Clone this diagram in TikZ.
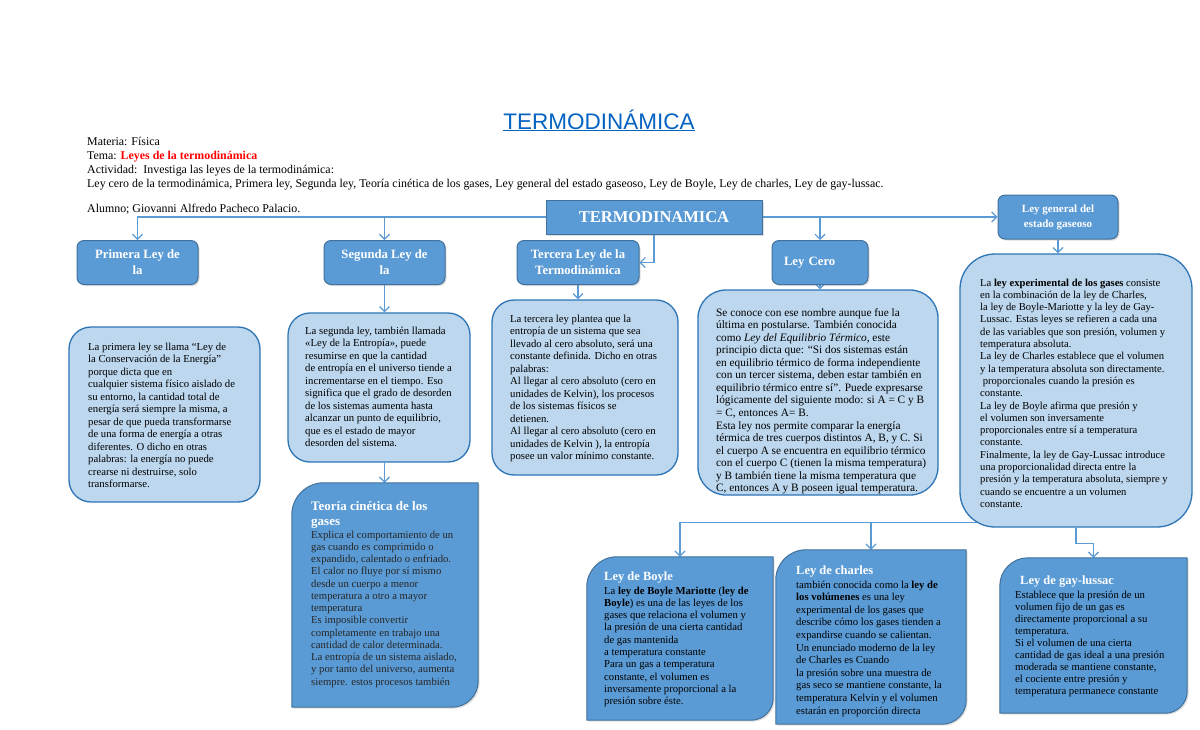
\documentclass[tikz,border=0pt]{standalone}
\usepackage{fontspec}
\setmainfont{Liberation Serif}
\setsansfont{Liberation Sans}
\usetikzlibrary{arrows.meta,shadows,calc,backgrounds}
\definecolor{titleblue}{HTML}{0563C1}
\definecolor{dkfill}{HTML}{5B9BD5}
\definecolor{dkline}{HTML}{41719C}
\definecolor{ltfill}{HTML}{BDD7EE}
\definecolor{ltline}{HTML}{2E75B6}
\definecolor{conncol}{HTML}{5B9BD5}
\definecolor{hdrred}{HTML}{FF0000}
\newcommand{\tl}[1]{\vtop{\halign{##\hfil\cr#1\crcr}}}
\newcommand{\dshape}[3]{%
  \path[dkshape] ($(#1.north west)+(0,#2)$) .. controls ($(#1.north west)+(0,0.45*#2)$) and ($(#1.north west)+(0.45*#2,0)$) .. ($(#1.north west)+(#2,0)$) -- (#1.north east) -- ($(#1.south east)+(0,-#3)$) .. controls ($(#1.south east)+(0,-0.45*#3)$) and ($(#1.south east)+(-0.45*#3,0)$) .. ($(#1.south east)+(-#3,0)$) -- (#1.south west) -- cycle;}
\begin{document}
\begin{tikzpicture}[x=1pt,y=-1pt,
  dkbox/.style={draw=dkline, fill=dkfill, line width=1pt, text=white, rounded corners=7pt, align=center,
     font=\bfseries\fontsize{12.7}{16}\selectfont,
     drop shadow={opacity=0.25, shadow xshift=1.5pt, shadow yshift=-1.5pt}},
  dkshape/.style={draw=dkline, fill=dkfill, line width=1pt,
     drop shadow={opacity=0.25, shadow xshift=1.5pt, shadow yshift=-1.5pt}},
  ltbox/.style={draw=ltline, fill=ltfill, line width=1.3pt, inner sep=0pt},
  area/.style={inner sep=0pt, draw=none},
  txt/.style={inner sep=0pt, anchor=base west, font=\fontsize{10.7}{12.5}\selectfont},
  ttl/.style={inner sep=0pt, anchor=base west, text=white, font=\bfseries\fontsize{12.5}{15}\selectfont},
  conn/.style={draw=conncol, line width=1.3pt},
  arr/.style={conn, -{Straight Barb[length=5pt,width=10pt,line width=1.2pt]}}
]
\useasboundingbox (0,0) rectangle (1200,729);

% title and header
\node[anchor=base, inner sep=0pt, text=titleblue, font=\sffamily\fontsize{22.5}{26}\selectfont] (title) at (599,129) {\underline{TERMODINÁMICA}};
\node[txt, font=\fontsize{11.9}{14.3}\selectfont] (hdr) at (87,145) {\tl{Materia: Física\cr
Tema: \textcolor{hdrred}{\textbf{Leyes de la termodinámica}}\cr
Actividad:\ \ Investiga las leyes de la termodinámica:\cr
Ley cero de la termodinámica, Primera ley, Segunda ley, Teoría cinética de los gases, Ley general del estado gaseoso, Ley de Boyle, Ley de charles, Ley de gay-lussac.\cr}};
\node[txt, font=\fontsize{11.9}{14.3}\selectfont] (alum) at (87,212) {Alumno; Giovanni Alfredo Pacheco Palacio.};

% dark header boxes
\node[dkbox, rounded corners=0pt, minimum width=216, minimum height=34, font=\bfseries\fontsize{16.5}{20}\selectfont] (main) at (654,217) {TERMODINAMICA};
\node[dkbox, minimum width=121, minimum height=44] (prim) at (137.5,262.5) {Primera Ley de\\la};
\node[dkbox, minimum width=121, minimum height=44] (segB) at (384.5,262.5) {Segunda Ley de\\la};
\node[dkbox, minimum width=122, minimum height=44] (terc) at (578,262.5) {Tercera Ley de la\\Termodinámica};
\node[dkbox, minimum height=44, text width=72, align=left, inner xsep=12pt] (cero) at (820,262.5) {Ley Cero};
\node[dkbox, minimum width=120, minimum height=44, font=\bfseries\fontsize{11}{15}\selectfont] (lgB) at (1058,217) {Ley general del\\estado gaseoso};

% light text boxes
\node[ltbox, rounded corners=22pt, minimum width=191, minimum height=175] (primBox) at (164.5,414.5) {};
\node[ltbox, rounded corners=22pt, minimum width=182, minimum height=149] (segBox) at (379,387.5) {};
\node[ltbox, rounded corners=22pt, minimum width=186, minimum height=175] (tercBox) at (585,387.5) {};
\node[ltbox, rounded corners=28pt, minimum width=240, minimum height=205] (ceroBox) at (818,392.5) {};
\node[ltbox, rounded corners=35pt, minimum width=232, minimum height=273] (lgBox) at (1076,390.5) {};

% diagonal-rounded dark boxes
\node[area, minimum width=186, minimum height=224] (teo) at (385,595) {};
\node[area, minimum width=186, minimum height=163] (boyle) at (680,638.5) {};
\node[area, minimum width=190, minimum height=174] (charles) at (871,637) {};
\node[area, minimum width=187, minimum height=155] (gay) at (1093.5,635.5) {};
\dshape{teo}{32}{26}
\dshape{boyle}{30}{22}
\dshape{charles}{30}{24}
\dshape{gay}{28}{22}

% texts
\node[txt] (primTx) at (88,350) {\tl{La primera ley se llama “Ley de\cr
la Conservación de la Energía”\cr
porque dicta que en\cr
cualquier sistema físico aislado de\cr
su entorno, la cantidad total de\cr
energía será siempre la misma, a\cr
pesar de que pueda transformarse\cr
de una forma de energía a otras\cr
diferentes. O dicho en otras\cr
palabras: la energía no puede\cr
crearse ni destruirse, solo\cr
transformarse.\cr}};

\node[txt] (segTx) at (305,334) {\tl{La segunda ley, también llamada\cr
«Ley de la Entropía», puede\cr
resumirse en que la cantidad\cr
de entropía en el universo tiende a\cr
incrementarse en el tiempo. Eso\cr
significa que el grado de desorden\cr
de los sistemas aumenta hasta\cr
alcanzar un punto de equilibrio,\cr
que es el estado de mayor\cr
desorden del sistema.\cr}};

\node[txt] (tercTx) at (510,322) {\tl{La tercera ley plantea que la\cr
entropía de un sistema que sea\cr
llevado al cero absoluto, será una\cr
constante definida. Dicho en otras\cr
palabras:\cr
Al llegar al cero absoluto (cero en\cr
unidades de Kelvin), los procesos\cr
de los sistemas físicos se\cr
detienen.\cr
Al llegar al cero absoluto (cero en\cr
unidades de Kelvin ), la entropía\cr
posee un valor mínimo constante.\cr}};

\node[txt, font=\fontsize{11.3}{12.57}\selectfont] (ceroTx) at (716,316) {\tl{Se conoce con ese nombre aunque fue la\cr
última en postularse. También conocida\cr
como \textit{Ley del Equilibrio Térmico}, este\cr
principio dicta que: “Si dos sistemas están\cr
en equilibrio térmico de forma independiente\cr
con un tercer sistema, deben estar también en\cr
equilibrio térmico entre sí”. Puede expresarse\cr
lógicamente del siguiente modo: si A = C y B\cr
= C, entonces A= B.\cr
Esta ley nos permite comparar la energía\cr
térmica de tres cuerpos distintos A, B, y C. Si\cr
el cuerpo A se encuentra en equilibrio térmico\cr
con el cuerpo C (tienen la misma temperatura)\cr
y B también tiene la misma temperatura que\cr
C, entonces A y B poseen igual temperatura.\cr}};

\node[txt, font=\fontsize{10.6}{12.3}\selectfont] (lgTx) at (980,286) {\tl{La \textbf{ley experimental de los gases} consiste\cr
en la combinación de la ley de Charles,\cr
la ley de Boyle-Mariotte y la ley de Gay-\cr
Lussac. Estas leyes se refieren a cada una\cr
de las variables que son presión, volumen y\cr
temperatura absoluta.\cr
La ley de Charles establece que el volumen\cr
y la temperatura absoluta son directamente.\cr
\ proporcionales cuando la presión es\cr
constante.\cr
La ley de Boyle afirma que presión y\cr
el volumen son inversamente\cr
proporcionales entre sí a temperatura\cr
constante.\cr
Finalmente, la ley de Gay-Lussac introduce\cr
una proporcionalidad directa entre la\cr
presión y la temperatura absoluta, siempre y\cr
cuando se encuentre a un volumen\cr
constante.\cr}};

\node[ttl, font=\bfseries\fontsize{13}{15}\selectfont] (teoT) at (311,510) {\tl{Teoría cinética de los\cr gases\cr}};
\node[txt, text=black!85, font=\fontsize{10.7}{12.25}\selectfont] (teoTx) at (311,538) {\tl{Explica el comportamiento de un\cr
gas cuando es comprimido o\cr
expandido, calentado o enfriado.\cr
El calor no fluye por sí mismo\cr
desde un cuerpo a menor\cr
temperatura a otro a mayor\cr
temperatura\cr
Es imposible convertir\cr
completamente en trabajo una\cr
cantidad de calor determinada.\cr
La entropía de un sistema aislado,\cr
y por tanto del universo, aumenta\cr
siempre. estos procesos también\cr}};

\node[ttl] (boyleT) at (604,580) {Ley de Boyle};
\node[txt, font=\fontsize{10.7}{12.3}\selectfont] (boyleTx) at (604,594) {\tl{La \textbf{ley de Boyle Mariotte} (\textbf{ley de}\cr
\textbf{Boyle}) es una de las leyes de los\cr
gases que relaciona el volumen y\cr
la presión de una cierta cantidad\cr
de gas mantenida\cr
a temperatura constante\cr
Para un gas a temperatura\cr
constante, el volumen es\cr
inversamente proporcional a la\cr
presión sobre éste.\cr}};

\node[ttl] (charT) at (796,574) {Ley de charles};
\begin{scope}
\clip (charles.north west) rectangle ($(charles.south east)+(0,-8)$);
\node[txt, font=\fontsize{10.7}{12.6}\selectfont] (charTx) at (796,588) {\tl{también conocida como la \textbf{ley de}\cr
\textbf{los volúmenes} es una ley\cr
experimental de los gases que\cr
describe cómo los gases tienden a\cr
expandirse cuando se calientan.\cr
Un enunciado moderno de la ley\cr
de Charles es Cuando\cr
la presión sobre una muestra de\cr
gas seco se mantiene constante, la\cr
temperatura Kelvin y el volumen\cr
estarán en proporción directa\cr}};
\end{scope}

\node[ttl] (gayT) at (1020,584) {Ley de gay-lussac};
\node[txt, font=\fontsize{10.7}{12.1}\selectfont] (gayTx) at (1015,598) {\tl{Establece que la presión de un\cr
volumen fijo de un gas es\cr
directamente proporcional a su\cr
temperatura.\cr
Si el volumen de una cierta\cr
cantidad de gas ideal a una presión\cr
moderada se mantiene constante,\cr
el cociente entre presión y\cr
temperatura permanece constante\cr}};

% connectors
\begin{scope}[on background layer]
\fill[white] (0,0) rectangle (1200,729);
\draw[arr] (main.west) -| (prim.north);
\draw[arr] (segB.north |- main.west) -- (segB.north);
\draw[arr] (main.south) |- (terc.east);
\draw[arr] (main.east) -- (lgB.west);
\draw[arr] (cero.north |- main.east) -- (cero.north);
\draw[arr] (segB.south) -- (segB.south |- segBox.north);
\draw[arr] (segB.south |- segBox.south) -- (segB.south |- teo.north);
\draw[arr] (terc.south) -- (terc.south |- tercBox.north);
\draw[arr] (cero.south) -- (cero.south |- ceroBox.north);
\draw[arr] (lgB.south) -- (lgB.south |- lgBox.north);
\coordinate (jn) at ($(lgBox.south)+(0,-5)$);
\draw[arr] (jn) -| (boyle.north);
\draw[arr] (charles.north |- jn) -- (charles.north);
\draw[arr] (lgBox.south) -- ++(0,16) -| (gay.north);
\end{scope}
\end{tikzpicture}
\end{document}
